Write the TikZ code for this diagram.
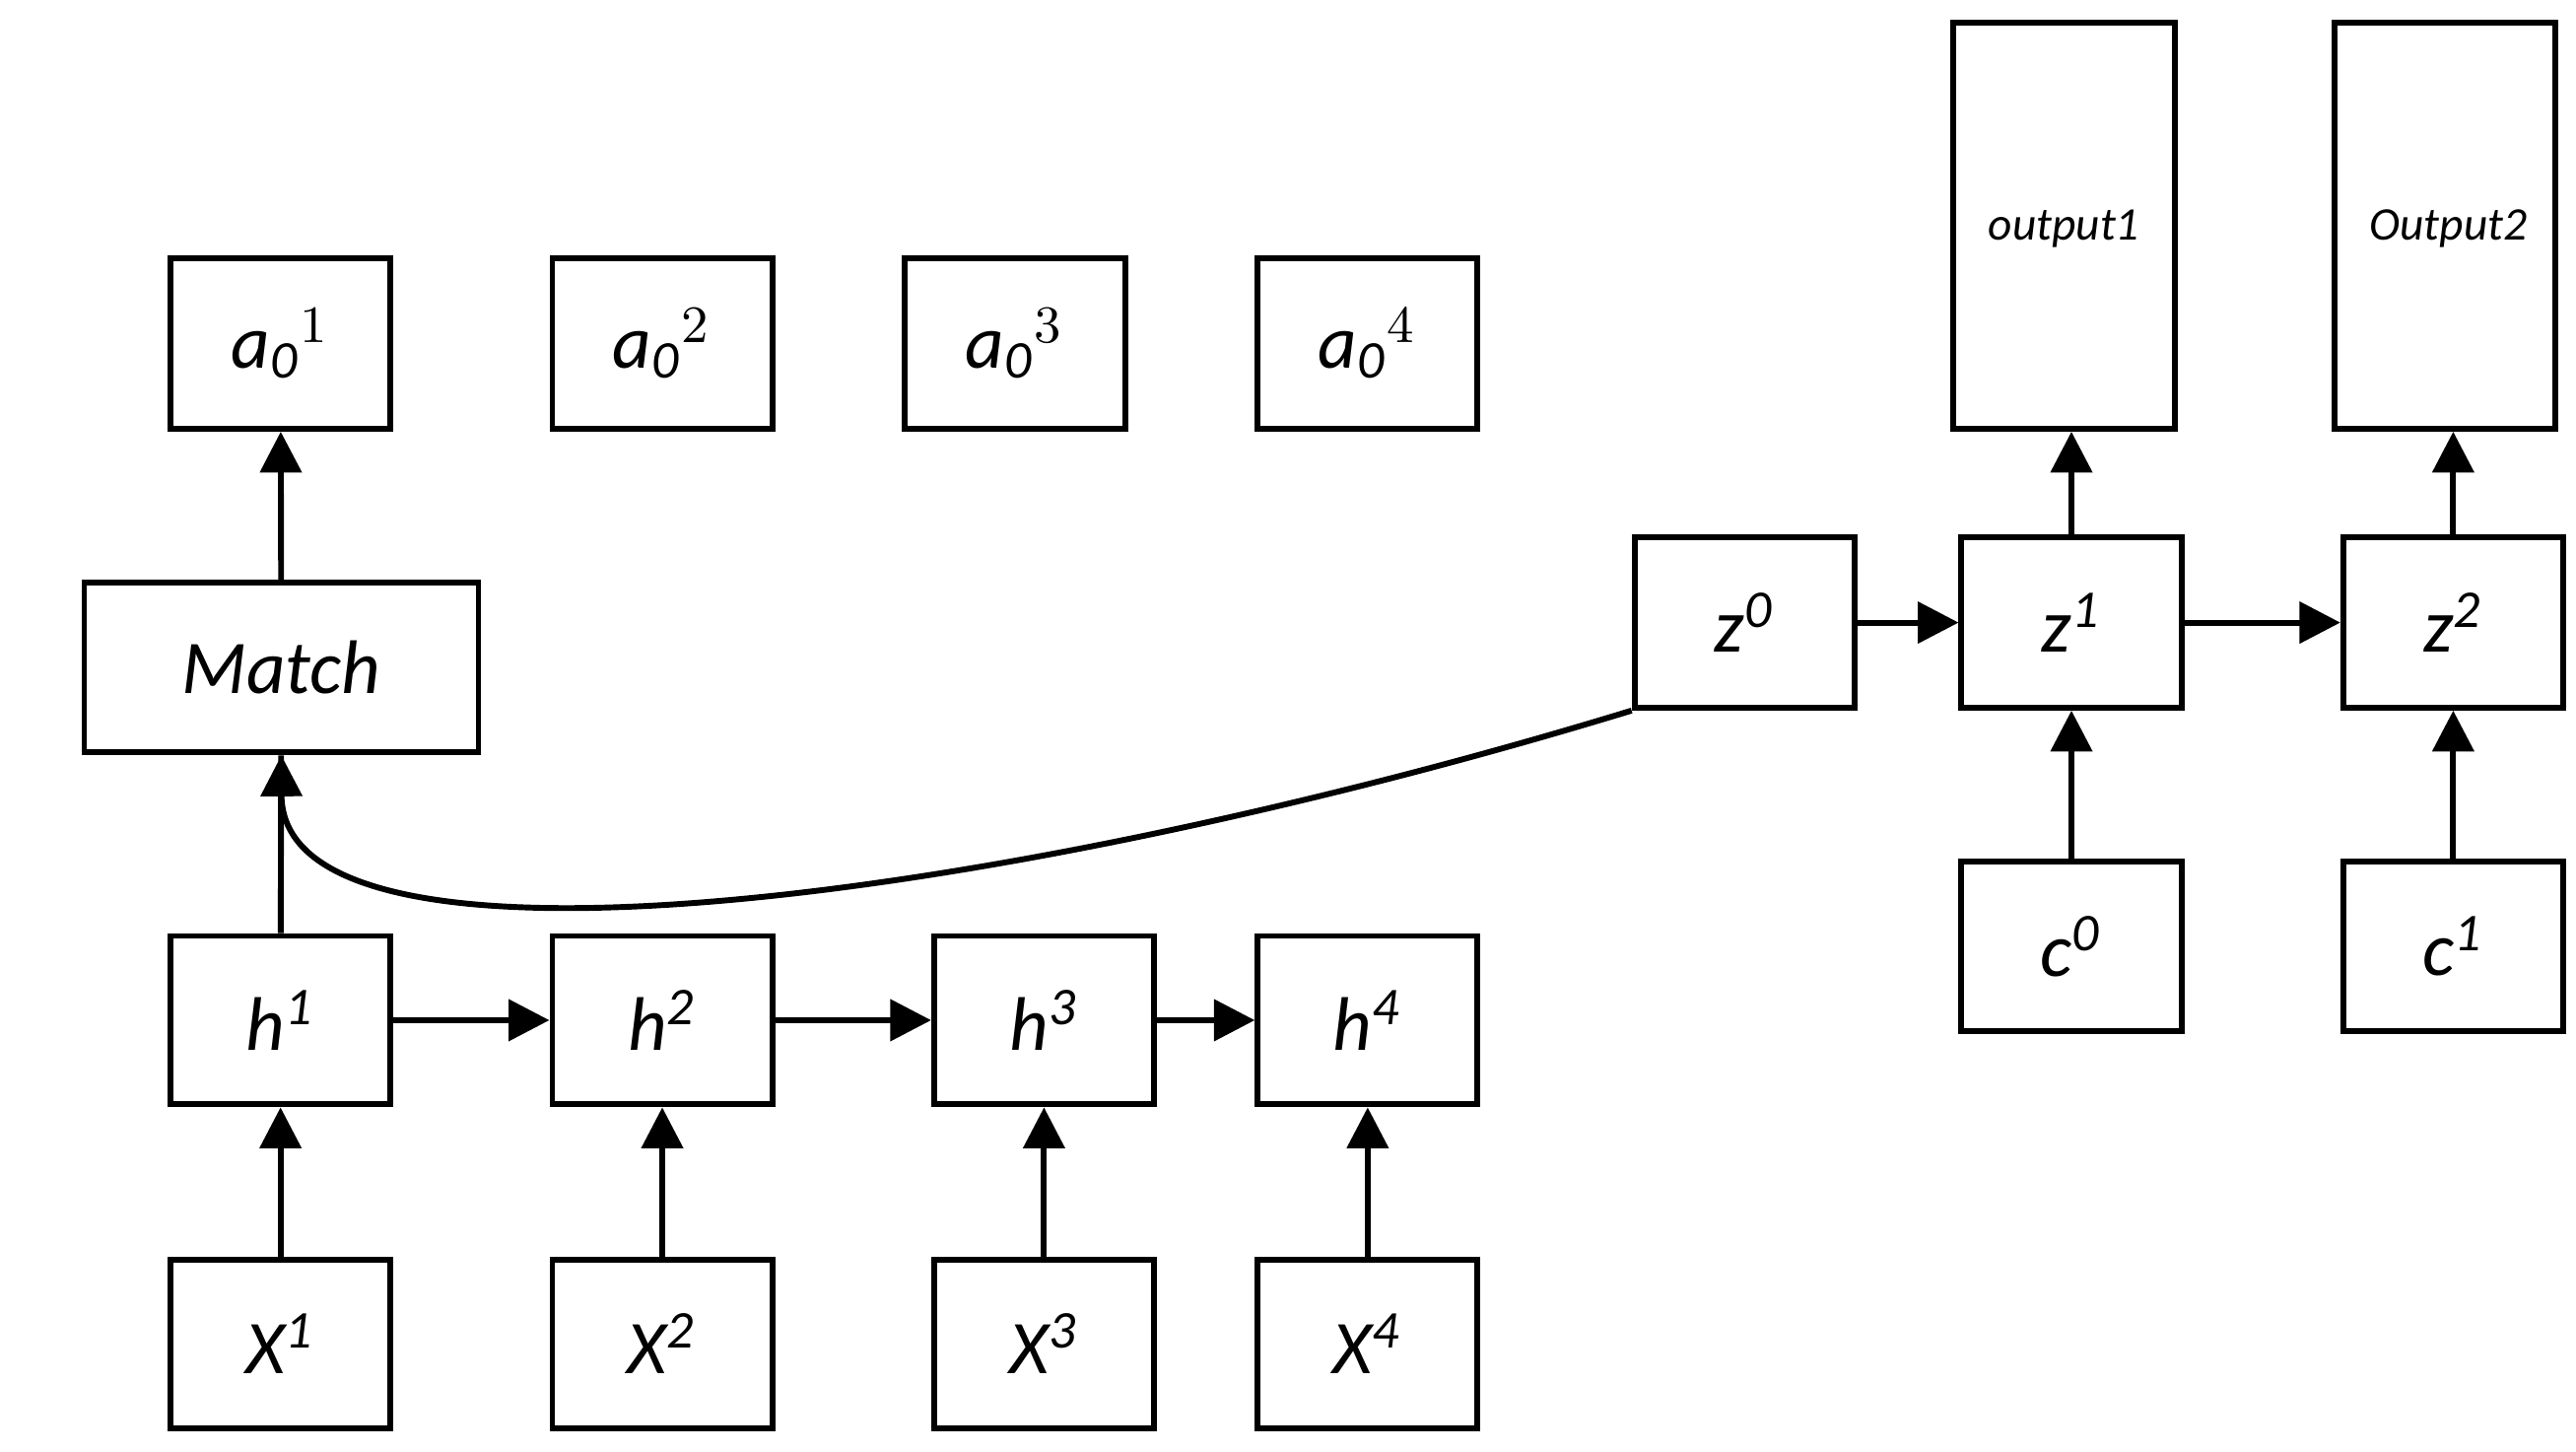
\documentclass[tikz,border=0pt]{standalone}
\usepackage{fontspec}
\setmainfont{Carlito}
\usetikzlibrary{arrows.meta}
\begin{document}
\begin{tikzpicture}[x=0.01cm,y=-0.01cm,
 bx/.style={draw,line width=1pt,inner sep=0pt,font=\fontsize{13}{15}\selectfont\itshape},
 ar/.style={line width=1pt,-{Triangle[length=7pt,width=7pt]}}]
\useasboundingbox (0,0) rectangle (1552,874);
\newcommand{\bxat}[6]{\node[bx,minimum width=#3*0.01cm-1pt,minimum height=#4*0.01cm-1pt] (#5) at ({#1+#3/2},{#2+#4/2}) {#6};}
\bxat{101}{154}{136}{106}{a1}{$\mathit{a_0}^{1}$}
\bxat{331}{154}{136}{106}{a2}{$\mathit{a_0}^{2}$}
\bxat{543}{154}{137}{106}{a3}{$\mathit{a_0}^{3}$}
\bxat{756}{154}{136}{106}{a4}{$\mathit{a_0}^{4}$}
\bxat{49}{349}{241}{106}{m}{Match}
\bxat{101}{562}{136}{105}{h1}{h\textsuperscript{1}}
\bxat{331}{562}{136}{105}{h2}{h\textsuperscript{2}}
\bxat{561}{562}{136}{105}{h3}{h\textsuperscript{3}}
\bxat{756}{562}{136}{105}{h4}{h\textsuperscript{4}}
\bxat{101}{757}{136}{105}{x1}{X\textsuperscript{1}}
\bxat{331}{757}{136}{105}{x2}{X\textsuperscript{2}}
\bxat{561}{757}{136}{105}{x3}{X\textsuperscript{3}}
\bxat{756}{757}{136}{105}{x4}{X\textsuperscript{4}}
\bxat{983}{322}{136}{106}{z0}{z\textsuperscript{0}}
\bxat{1180}{322}{136}{106}{z1}{z\textsuperscript{1}}
\bxat{1410}{322}{136}{106}{z2}{z\textsuperscript{2}}
\bxat{1180}{517}{136}{106}{c0}{c\textsuperscript{0}}
\bxat{1410}{517}{136}{106}{c1}{c\textsuperscript{1}}
\node[bx,font=\fontsize{8}{10}\selectfont\itshape,minimum width=137*0.01cm-1pt,minimum height=248*0.01cm-1pt,anchor=north,inner sep=0pt] (o1) at (1243.5,12) {};
\node[font=\fontsize{8}{10}\selectfont\itshape] at (1243.5,138) {output1};
\node[bx,minimum width=136*0.01cm-1pt,minimum height=248*0.01cm-1pt,anchor=north] (o2) at (1473,12) {};
\node[font=\fontsize{8}{10}\selectfont\itshape] at (1475,138) {Output2};
\draw[ar] (m) -- (a1);
\draw[line width=1pt] (h1) -- (m);
\foreach \i in {1,2,3,4} \draw[ar] (x\i) -- (h\i);
\draw[ar] (h1) -- (h2); \draw[ar] (h2) -- (h3); \draw[ar] (h3) -- (h4);
\draw[ar] (z0) -- (z1); \draw[ar] (z1) -- (z2);
\draw[ar] (c0) -- (z1); \draw[ar] (c1) -- (z2);
\draw[ar] (z1.north) -- (z1.north |- o1.south);
\draw[ar] (z2.north) -- (z2.north |- o2.south);
\draw[ar] (z0.south west) .. controls (600,545) and (170,600) .. (m.south);
\end{tikzpicture}
\end{document}
